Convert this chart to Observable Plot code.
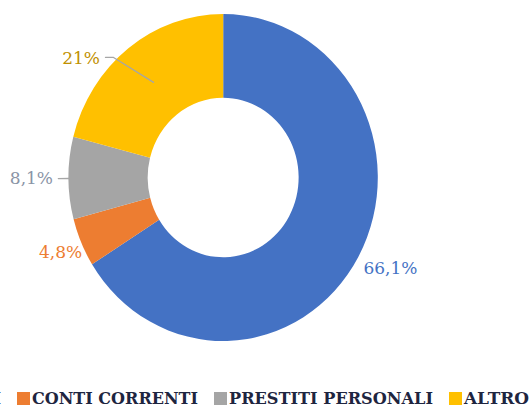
<!DOCTYPE html>
<html><head><meta charset="utf-8">
<script src="https://cdn.jsdelivr.net/npm/d3@7"></script>
<script src="https://cdn.jsdelivr.net/npm/@observablehq/plot@0.6"></script>
<style>
body{margin:0;background:#fff;width:529px;height:408px;overflow:hidden}
#chart svg{display:block}
</style>
</head><body><div id="chart"></div>
<script>
// ---- data ----
const categories = ["MUTUI", "CONTI CORRENTI", "PRESTITI PERSONALI", "ALTRO"];
const shares = [66.1, 4.8, 8.1, 21];
const valueLabels = ["66,1%", "4,8%", "8,1%", "21%"];
const colors = ["#4472C4", "#ED7D31", "#A5A5A5", "#FFC000"];
const labelColors = ["#4472C4", "#ED7D31", "#8a94a6", "#BF9000"];

// ---- layout ----
const innerRatio = 0.488;
const labelRadius = [1.212, 1.149, 1.243, 1.175];
const labelAngleShift = [-1.8, 0, 0, -13.9]; // degrees
const legendWidths = [66, 166, 204, 65];

const data = categories.map((c, i) => ({category: c, share: shares[i], label: valueLabels[i], color: colors[i], labelColor: labelColors[i], i}));
const arcs = d3.pie().sort(null).value(d => d.share)(data);
const rad = Math.PI / 180;
const polar = (a, r) => ({x: Math.sin(a) * r, y: Math.cos(a) * r});

const labelData = arcs.map((a, i) => {
  const mid = (a.startAngle + a.endAngle) / 2 + labelAngleShift[i] * rad;
  const p = polar(mid, labelRadius[i]);
  return {...p, text: a.data.label, color: a.data.labelColor};
});

// leader lines (8,1% and 21%)
const leaders = [];
{
  const g = arcs[2], m = (g.startAngle + g.endAngle) / 2;
  leaders.push({id: 2, ...polar(m, 1.0)}, {id: 2, ...polar(m, 1.069)});
  const a = arcs[3], m3 = (a.startAngle + a.endAngle) / 2;
  const L = labelData[3];
  leaders.push({id: 3, ...polar(m3, 0.74)}, {id: 3, x: L.x + 0.21, y: L.y + 0.009}, {id: 3, x: L.x + 0.158, y: L.y + 0.009});
}

const arcGen = d3.arc().innerRadius(innerRatio).outerRadius(1);

const donut = (index, scales) => {
  const {x, y} = scales;
  const cx = x(0), cy = y(0), rx = x(1) - cx, ry = y(-1) - cy;
  const g = d3.create("svg:g").attr("transform", `translate(${cx},${cy}) scale(${rx},${ry})`);
  g.selectAll("path").data(arcs).join("path").attr("d", arcGen).attr("fill", d => d.data.color);
  return g.node();
};

const plot = Plot.plot({
  width: 529,
  height: 370,
  margin: 0,
  x: {domain: [-1, 1], range: [68.5, 377.9], axis: null},
  y: {domain: [-1, 1], range: [341, 14], axis: null},
  color: {type: "identity"},
  marks: [
    donut,
    Plot.line(leaders, {x: "x", y: "y", z: "id", stroke: "#a6a6a6", strokeWidth: 1.3}),
    Plot.text(labelData, {x: "x", y: "y", text: "text", fill: "color", fontSize: 17, fontFamily: "DejaVu Serif"})
  ]
});
document.getElementById("chart").appendChild(plot);

// ---- legend below the plot ----
const leg = d3.create("svg").attr("width", 529).attr("height", 38).style("display", "block");
let xPos = 16 - 15 - legendWidths[0] - 15;
categories.forEach((c, i) => {
  leg.append("rect").attr("x", xPos).attr("y", 22).attr("width", 13).attr("height", 13).attr("fill", colors[i]);
  leg.append("text").attr("x", xPos + 15).attr("y", 34)
    .attr("font-family", "DejaVu Serif").attr("font-weight", "bold").attr("font-size", 17)
    .attr("fill", "#1e2540")
    .attr("textLength", legendWidths[i]).attr("lengthAdjust", "spacingAndGlyphs")
    .text(c);
  xPos += 15 + legendWidths[i] + 16;
});
document.getElementById("chart").appendChild(leg.node());
</script>
</body></html>
